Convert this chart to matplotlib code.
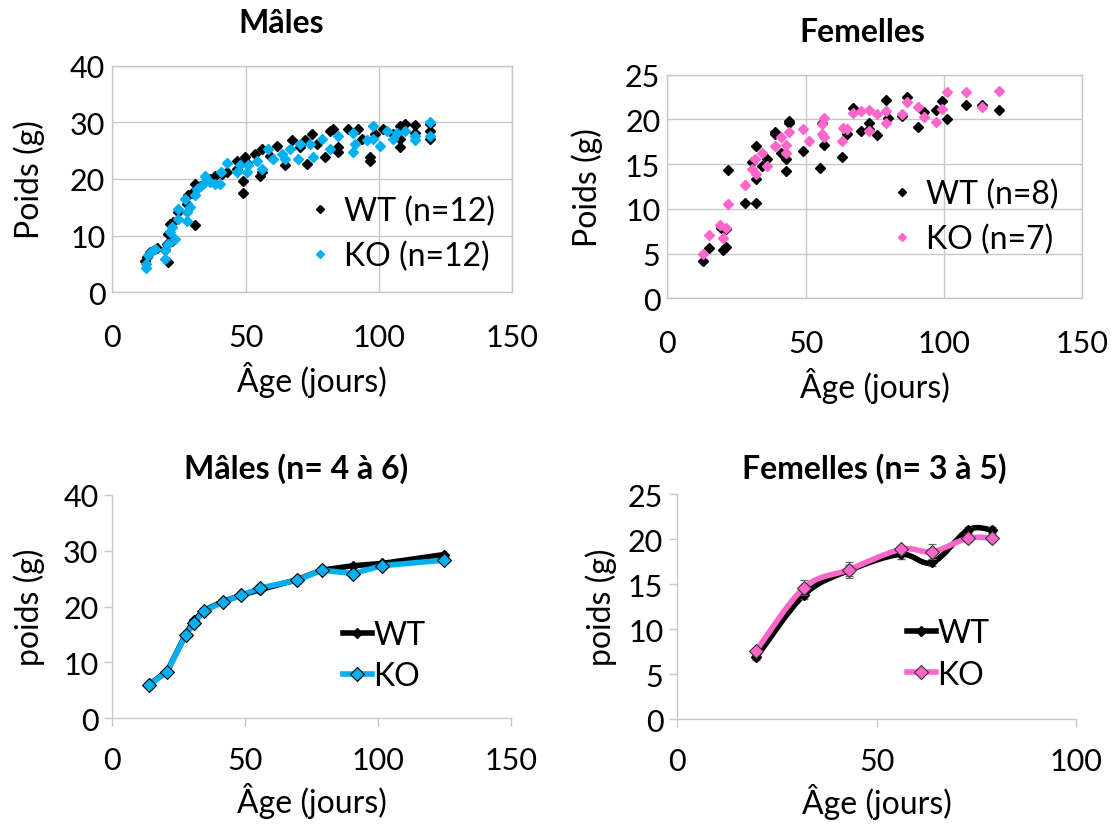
import matplotlib
matplotlib.use("Agg")
import matplotlib.pyplot as plt
from matplotlib.lines import Line2D
from matplotlib.path import Path
from matplotlib.patches import PathPatch

plt.rcParams['font.family'] = ['Lato', 'DejaVu Sans']

# ---------------- Data ----------------
# Males scatter (age in days, weight g)
m_wt_age = [12.25, 12.9, 14.1, 16.6, 19.75, 21, 20.4, 21, 21.6, 22.9, 22.25, 24.75, 27.9, 28.5, 29.75, 31, 31,
            32.9, 36.6, 38.5, 41, 42.9, 46.6, 46.6, 48.9, 48.9, 49.75, 50.4, 53.5, 55.4, 56, 56, 59, 61.6, 64.75,
            67.25, 70.4, 72.25, 72.9, 74.75, 76.6, 79.75, 81.6, 82.9, 84.75, 84.75, 88.5, 92.25, 93.5, 96.6, 96.6,
            98.5, 101.6, 105.4, 107.9, 107.9, 107.9, 109.75, 113.5, 113.5, 119.1, 119.1, 119.1]
m_wt_w = [5.6, 6.2, 7.1, 7.9, 7.4, 5.3, 8.5, 10.3, 12.1, 12.4, 9.1, 14.1, 15.6, 17.1, 17.6, 19.1, 11.8,
          18.8, 20.0, 20.6, 20.9, 21.2, 23.2, 21.8, 17.6, 19.7, 23.8, 22.9, 24.4, 20.6, 21.2, 25.3, 24.1, 25.9, 22.4,
          26.8, 25.6, 26.8, 22.6, 27.9, 26.2, 23.8, 28.5, 28.8, 25.6, 24.7, 28.8, 28.8, 27.1, 23.8, 23.2,
          27.9, 28.8, 27.9, 29.4, 25.6, 27.1, 29.7, 29.5, 28.2, 27.1, 28.5, 29.7]
m_ko_age = [12.6, 12.6, 13.5, 14.75, 16, 19.75, 19.75, 21, 21.6, 22.25, 23.5, 24.75, 24.75, 27.25, 27.9, 27.9,
            29.1, 31, 31.6, 34.1, 34.75, 36.6, 38.5, 40.4, 40.9, 42.9, 46.6, 47.9, 50.4, 50.9, 54.1, 56, 58.5,
            60.4, 63.5, 64.75, 66.6, 69.75, 70.4, 74.1, 75.4, 78.5, 81.6, 84.75, 90.4, 90.4, 91, 95.4, 97.9, 97.9,
            100.4, 102.9, 105.4, 106.6, 109.75, 113.5, 113.5, 119.1, 119.1]
m_ko_w = [4.2, 5.0, 6.5, 7.2, 7.6, 5.9, 7.4, 8.5, 10.6, 11.5, 9.4, 14.7, 12.9, 16.5, 14.1, 12.6,
          15.0, 17.1, 18.2, 19.1, 20.6, 19.4, 19.1, 19.1, 21.2, 22.9, 21.2, 22.4, 21.2, 22.4, 23.2, 21.8, 25.3,
          23.5, 24.4, 23.5, 25.3, 23.5, 26.2, 26.2, 23.8, 27.1, 25.3, 27.6, 28.2, 24.7, 26.2, 26.8, 29.4, 27.1,
          25.9, 28.5, 27.1, 28.2, 28.5, 27.6, 26.8, 30.0, 27.6]

# Females scatter
f_wt_age = [13.0, 15.2, 20.2, 21.1, 19.3, 21.1, 22.0, 28.1, 32.0, 32.0, 30.7, 32.0, 34.1, 35.9, 38.9, 38.9,
            41.0, 42.9, 42.9, 44.0, 44.0, 49.2, 55.2, 56.0, 56.7, 63.0, 64.8, 67.0, 69.9, 73.0, 73.0, 76.0,
            79.0, 79.9, 85.0, 86.8, 90.7, 92.9, 97.0, 99.2, 101.0, 108.0, 113.9, 120.0]
f_wt_w = [4.2, 5.6, 5.4, 5.7, 7.9, 7.7, 14.3, 10.7, 10.7, 17.0, 15.2, 13.3, 14.8, 15.6, 18.6, 18.4,
          16.3, 15.6, 14.2, 19.8, 19.6, 16.5, 14.6, 19.6, 17.1, 15.8, 18.4, 21.3, 18.7, 19.6, 18.9, 18.3,
          22.2, 20.2, 20.4, 22.5, 19.2, 20.8, 21.1, 22.1, 20.0, 21.6, 21.6, 21.1]
f_ko_age = [13.0, 15.2, 19.0, 20.2, 21.2, 22.0, 28.1, 30.7, 31.7, 32.0, 34.1, 36.1, 38.9, 41.0, 42.9, 42.9,
            44.0, 49.2, 51.2, 56.0, 56.0, 56.7, 56.7, 63.0, 63.4, 64.8, 67.0, 69.9, 73.0, 73.0, 76.0, 79.0,
            79.0, 85.0, 86.8, 90.7, 92.9, 97.0, 99.2, 101.0, 108.0, 113.9, 120.0]
f_ko_w = [5.0, 7.1, 8.2, 6.7, 7.9, 10.5, 12.7, 14.5, 15.6, 13.9, 16.3, 14.8, 17.0, 18.0, 17.1, 16.3,
          18.6, 18.9, 17.6, 18.4, 19.5, 20.2, 18.0, 17.6, 19.1, 18.9, 20.7, 20.9, 21.1, 18.7, 20.6, 21.0,
          19.6, 20.6, 21.9, 21.4, 20.3, 19.7, 21.2, 23.1, 23.1, 21.4, 23.2]

# Males means (n = 4 to 6)
mm_age = [13.75, 20.6, 27.6, 30.75, 34.5, 41.6, 48.5, 55.5, 69.5, 78.75, 90.6, 101.5, 124.9]
mm_wt = [6.0, 8.4, 15.0, 17.5, 19.3, 20.9, 22.0, 23.0, 24.8, 26.5, 27.3, 27.7, 29.3]
mm_ko = [5.95, 8.3, 14.9, 17.0, 19.2, 20.8, 22.0, 23.3, 24.7, 26.5, 25.9, 27.3, 28.3]

# Females means (n = 3 to 5)
fm_age = [19.8, 31.8, 43.0, 56.0, 64.0, 72.9, 79.0]
fm_wt = [6.85, 13.8, 16.5, 18.3, 17.4, 21.0, 21.0]
fm_wt_err = [0.3, 0.5, 0.6, 0.5, 0.4, 0.3, 0.3]
fm_ko = [7.6, 14.6, 16.6, 18.85, 18.6, 20.1, 20.1]
fm_ko_err = [0.3, 0.8, 0.9, 0.4, 0.8, 0.4, 0.4]

BLUE = '#00b0f0'
PINK = '#ff66cc'
GRID = '#c8c8c8'
TICK_FS = 22
LAB_FS = 23
TITLE_FS = 23
LEG_FS = 23

fig = plt.figure(figsize=(11.13, 8.28), dpi=100)


def smooth_path(xs, ys):
    """Excel-like smoothed line: cubic Bezier segments through the data points."""
    n = len(xs)
    verts = [(xs[0], ys[0])]
    codes = [Path.MOVETO]
    for i in range(n - 1):
        x0, y0 = (xs[i - 1], ys[i - 1]) if i > 0 else (xs[i], ys[i])
        x1, y1 = xs[i], ys[i]
        x2, y2 = xs[i + 1], ys[i + 1]
        x3, y3 = (xs[i + 2], ys[i + 2]) if i + 2 < n else (xs[i + 1], ys[i + 1])
        c1 = (x1 + (x2 - x0) / 6.0, y1 + (y2 - y0) / 6.0)
        c2 = (x2 - (x3 - x1) / 6.0, y2 - (y3 - y1) / 6.0)
        verts += [c1, c2, (x2, y2)]
        codes += [Path.CURVE4] * 3
    return Path(verts, codes)


def style_top(ax, xmax, ymax, ystep):
    ax.set_xlim(0, xmax)
    ax.set_ylim(0, ymax)
    ax.set_xticks(range(0, xmax + 1, 50))
    ax.set_yticks(range(0, ymax + 1, ystep))
    ax.grid(True, color=GRID, linewidth=1.0)
    ax.set_axisbelow(True)
    for s in ax.spines.values():
        s.set_color(GRID)
        s.set_linewidth(1.0)
    ax.tick_params(length=0, labelsize=TICK_FS)
    ax.tick_params(axis='x', pad=22)
    ax.tick_params(axis='y', pad=5)


def style_bottom(ax, xmax, ymax, ystep):
    ax.set_xlim(0, xmax)
    ax.set_ylim(0, ymax)
    ax.set_xticks(range(0, xmax + 1, 50))
    ax.set_yticks(range(0, ymax + 1, ystep))
    ax.spines['top'].set_visible(False)
    ax.spines['right'].set_visible(False)
    for s in ('left', 'bottom'):
        ax.spines[s].set_color(GRID)
        ax.spines[s].set_linewidth(1.0)
    ax.tick_params(length=6, color=GRID, width=1.0, labelsize=TICK_FS)
    ax.tick_params(axis='x', pad=14)
    ax.tick_params(axis='y', pad=4)


# ---- Top-left: males scatter ----
ax1 = fig.add_axes([0.1009, 0.6458, 0.3594, 0.2737])
ax1.plot(m_wt_age, m_wt_w, linestyle='none', marker='D', ms=5, color='black', label='WT (n=12)')
ax1.plot(m_ko_age, m_ko_w, linestyle='none', marker='D', ms=5, color=BLUE, label='KO (n=12)')
style_top(ax1, 150, 40, 10)
ax1.set_xlabel('Âge (jours)', fontsize=LAB_FS, labelpad=7)
ax1.set_ylabel('Poids (g)', fontsize=LAB_FS, labelpad=18)
ax1.set_title('Mâles', fontsize=TITLE_FS, fontweight='bold', pad=24, x=0.4225)
ax1.legend(loc='center', bbox_to_anchor=(0.725, 0.26), frameon=False, fontsize=LEG_FS, handlelength=0.7,
           handletextpad=0.4, labelspacing=0.45, markerscale=0.85)

# ---- Top-right: females scatter ----
ax2 = fig.add_axes([0.5996, 0.6385, 0.3726, 0.2700])
ax2.plot(f_wt_age, f_wt_w, linestyle='none', marker='D', ms=5, color='black', label='WT (n=8)')
ax2.plot(f_ko_age, f_ko_w, linestyle='none', marker='D', ms=5, color=PINK, label='KO (n=7)')
style_top(ax2, 150, 25, 5)
ax2.set_xlabel('Âge (jours)', fontsize=LAB_FS, labelpad=7)
ax2.set_ylabel('Poids (g)', fontsize=LAB_FS, labelpad=16)
ax2.set_title('Femelles', fontsize=TITLE_FS, fontweight='bold', pad=24, x=0.47)
ax2.legend(loc='center', bbox_to_anchor=(0.74, 0.368), frameon=False, fontsize=LEG_FS, handlelength=0.7,
           handletextpad=0.4, labelspacing=0.45, markerscale=0.85)

# ---- Bottom-left: males means ----
ax3 = fig.add_axes([0.1009, 0.1313, 0.3582, 0.2700])
ax3.plot(mm_age, mm_wt, color='black', linewidth=4.0, marker='D', ms=5.5, mfc='black', mec='black', label='WT')
ax3.plot(mm_age, mm_ko, color=BLUE, linewidth=4.0, marker='D', ms=7.5, mfc=BLUE, mec='black', mew=0.8,
         label='KO')
style_bottom(ax3, 150, 40, 10)
ax3.set_xlabel('Âge (jours)', fontsize=LAB_FS, labelpad=6)
ax3.set_ylabel('poids (g)', fontsize=LAB_FS, labelpad=13)
ax3.set_title('Mâles (n= 4 à 6)', fontsize=TITLE_FS, fontweight='bold', pad=12, x=0.46)
ax3.legend(loc='center', bbox_to_anchor=(0.682, 0.28), frameon=False, fontsize=LEG_FS, handlelength=0.9,
           handletextpad=0.05, labelspacing=0.35)

# ---- Bottom-right: females means ----
ax4 = fig.add_axes([0.6085, 0.1304, 0.3582, 0.2717])
ax4.add_patch(PathPatch(smooth_path(fm_age, fm_wt), facecolor='none', edgecolor='black', linewidth=4.0,
                        capstyle='round', zorder=2))
ax4.errorbar(fm_age, fm_wt, yerr=fm_wt_err, linestyle='none', marker='D', ms=5.5,
             mfc='black', mec='black', ecolor='#666666', elinewidth=0.8, capsize=3, zorder=3)
ax4.add_patch(PathPatch(smooth_path(fm_age, fm_ko), facecolor='none', edgecolor=PINK, linewidth=4.0,
                        capstyle='round', zorder=4))
ax4.errorbar(fm_age, fm_ko, yerr=fm_ko_err, linestyle='none', marker='D', ms=7.5,
             mfc=PINK, mec='#333333', mew=0.8, ecolor='#666666', elinewidth=0.8, capsize=3, zorder=5)
style_bottom(ax4, 100, 25, 5)
ax4.set_xlabel('Âge (jours)', fontsize=LAB_FS, labelpad=6)
ax4.set_ylabel('poids (g)', fontsize=LAB_FS, labelpad=8)
ax4.set_title('Femelles (n= 3 à 5)', fontsize=TITLE_FS, fontweight='bold', pad=12, x=0.495)
h = [Line2D([], [], color='black', linewidth=4.0, marker='D', ms=5.5),
     Line2D([], [], color=PINK, linewidth=4.0, marker='D', ms=7.5, mfc=PINK, mec='#333333', mew=0.8)]
ax4.legend(h, ['WT', 'KO'], loc='center', bbox_to_anchor=(0.68, 0.289), frameon=False, fontsize=LEG_FS,
           handlelength=0.9, handletextpad=0.05, labelspacing=0.35)

fig.savefig('out.png', dpi=100)
